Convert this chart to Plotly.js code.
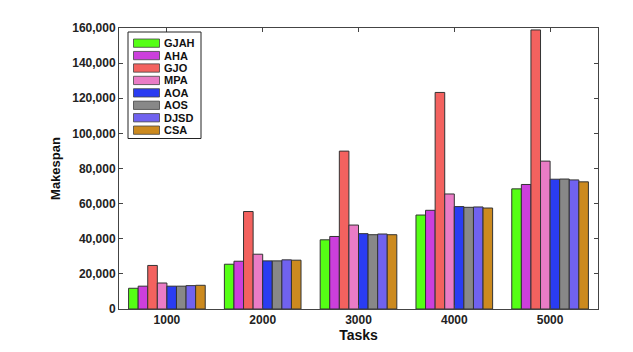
<html><head>
<script src="https://cdn.plot.ly/plotly-3.0.1.min.js"></script>
<style>
body { margin: 0; background: #fff; }
#chart { width: 633px; height: 352px; }
</style>
</head>
<body>
<div id="chart"></div>
<script>
// data
const tasks = ['1000', '2000', '3000', '4000', '5000'];
const algos = ['GJAH', 'AHA', 'GJO', 'MPA', 'AOA', 'AOS', 'DJSD', 'CSA'];
const colors = ['#55ff15', '#cc3fdc', '#f3625f', '#ea7cc6', '#2a3cf2', '#888888', '#7062ef', '#cc8a1f'];

const GJAH = [11800, 25500, 39400, 53500, 68400];
const AHA  = [13000, 27200, 41300, 56200, 70900];
const GJO  = [24800, 55500, 89900, 123300, 158900];
const MPA  = [14800, 31200, 47800, 65500, 84200];
const AOA  = [13000, 27400, 42900, 58300, 73900];
const AOS  = [13000, 27400, 42300, 57900, 74000];
const DJSD = [13300, 28000, 42700, 58100, 73500];
const CSA  = [13500, 27800, 42300, 57500, 72400];
const series = [GJAH, AHA, GJO, MPA, AOA, AOS, DJSD, CSA];

const W = 633, H = 352;
const M = {l: 119, r: 35, t: 28, b: 43};
// pixel -> paper helpers for the hand-made legend
const px = x => (x - M.l) / (W - M.l - M.r);
const py = y => (H - M.b - y) / (H - M.t - M.b);

const data = algos.map((name, i) => ({
  type: 'bar',
  name: name,
  x: tasks,
  y: series[i],
  marker: {color: colors[i], line: {color: '#333333', width: 1}}
}));

// legend box, swatches and labels
const shapes = [{
  type: 'rect', xref: 'paper', yref: 'paper',
  x0: px(128), x1: px(201), y0: py(138.5), y1: py(32),
  line: {color: '#222', width: 1}, fillcolor: '#fff'
}];
const annotations = [];
algos.forEach((name, i) => {
  const top = 39 + i * 12.43;
  shapes.push({
    type: 'rect', xref: 'paper', yref: 'paper',
    x0: px(133.5), x1: px(159.5), y0: py(top + 8.3), y1: py(top),
    line: {color: '#444', width: 0.8}, fillcolor: colors[i]
  });
  annotations.push({
    xref: 'paper', yref: 'paper', x: px(162), y: py(top + 4.2),
    xanchor: 'left', yanchor: 'middle', showarrow: false,
    text: '<b>' + name + '</b>',
    font: {family: 'Liberation Sans, Arial', size: 11, color: '#111'}
  });
});

const axisCommon = {
  showline: true, linecolor: '#444', linewidth: 1, mirror: 'ticks',
  ticks: 'inside', ticklen: 4, tickcolor: '#444',
  showgrid: false, zeroline: false,
  tickfont: {family: 'Liberation Sans, Arial', size: 12, color: '#222', weight: 'bold'}
};

const layout = {
  width: W, height: H,
  margin: M,
  paper_bgcolor: '#fff', plot_bgcolor: '#fff',
  barmode: 'group', bargap: 0.2, bargroupgap: 0,
  showlegend: false,
  xaxis: Object.assign({}, axisCommon, {
    type: 'category',
    title: {text: '<b>Tasks</b>', standoff: 2,
      font: {family: 'Liberation Sans, Arial', size: 14, color: '#111'}}
  }),
  yaxis: Object.assign({}, axisCommon, {
    range: [0, 160000], tickformat: ',d', dtick: 20000,
    title: {text: '<b>Makespan</b>', standoff: 8,
      font: {family: 'Liberation Sans, Arial', size: 13, color: '#111'}}
  }),
  shapes: shapes,
  annotations: annotations
};

Plotly.newPlot('chart', data, layout, {displayModeBar: false, staticPlot: true});
</script>
</body></html>
